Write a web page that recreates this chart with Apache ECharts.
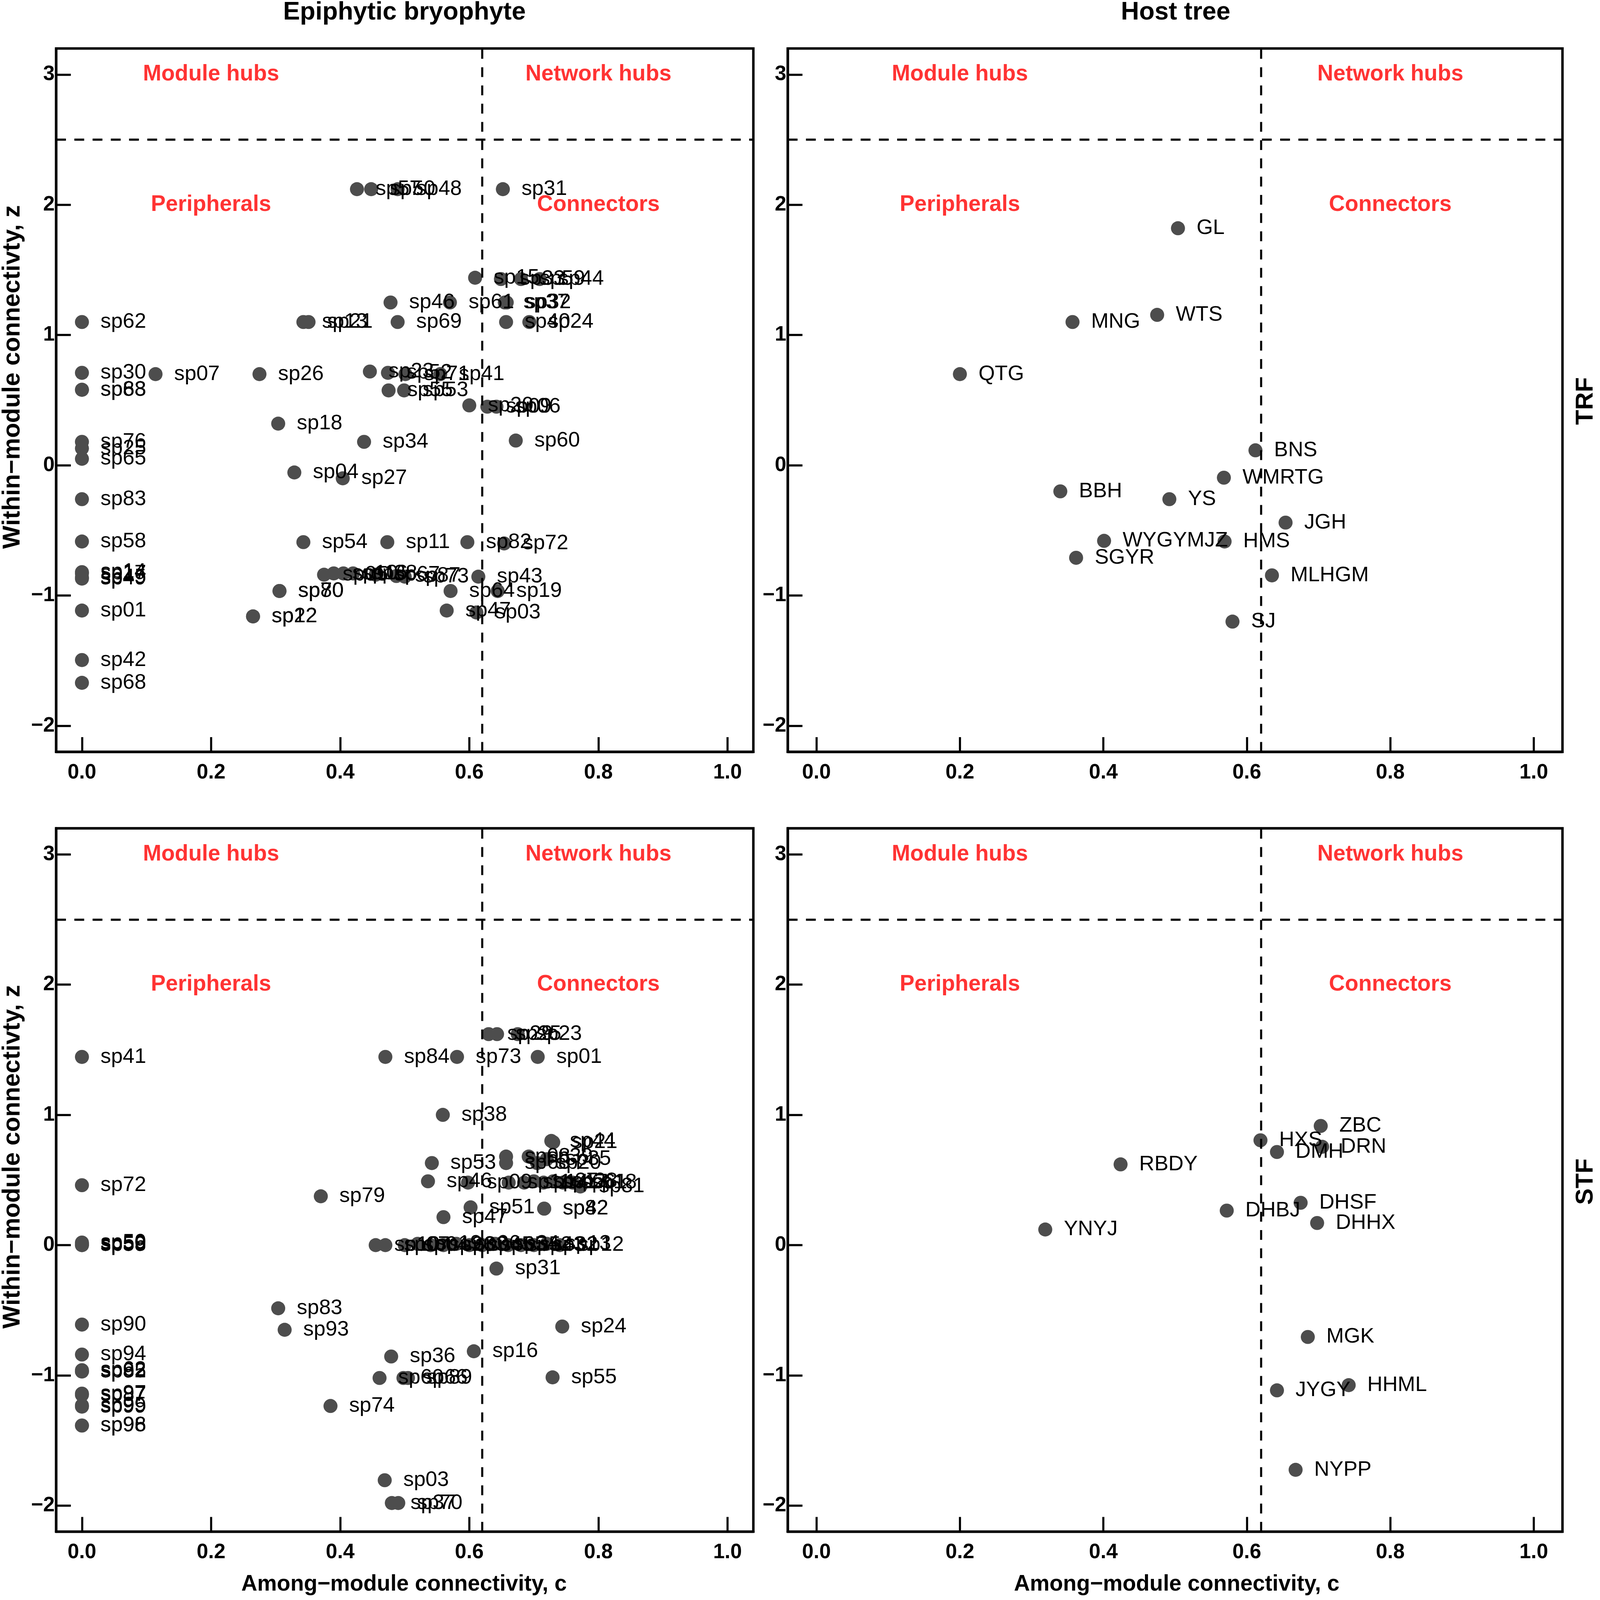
<!DOCTYPE html>
<html>
<head>
<meta charset="utf-8">
<script src="https://cdn.jsdelivr.net/npm/echarts@6/dist/echarts.min.js"></script>
<style>html,body{margin:0;padding:0;background:#fff;overflow:hidden}#chart{width:100vw;height:100vh}</style>
</head>
<body>
<div id="chart"></div>
<script>
// ---------- DATA ----------
// TRF – epiphytic bryophyte
var trfBryoNames = ['sp62','sp30','sp63','sp88','sp76','sp25','sp65','sp83','sp58','sp14','sp17','sp45','sp49','sp01','sp42','sp68',
  'sp07','sp26','sp18','sp04','sp27','sp34','sp13','sp21','sp46','sp69','sp61','sp37','sp32','sp57','sp50','sp48','sp31',
  'sp15','sp33','sp59','sp44','sp40','sp24','sp23','sp52','sp71','sp41','sp55','sp53','sp20','sp09','sp06','sp60',
  'sp54','sp11','sp82','sp72','sp05','sp10','sp16','sp38','sp67','sp87','sp73','sp43','sp64','sp19','sp80','sp70',
  'sp12','sp22','sp47','sp03'];
var trfBryoC = [0,0,0,0,0,0,0,0,0,0,0,0,0,0,0,0,
  0.114,0.275,0.304,0.329,0.404,0.437,0.343,0.351,0.478,0.489,0.570,0.655,0.658,0.426,0.448,0.489,0.652,
  0.609,0.649,0.680,0.709,0.657,0.693,0.446,0.474,0.501,0.555,0.475,0.499,0.600,0.628,0.642,0.672,
  0.343,0.473,0.597,0.654,0.375,0.390,0.405,0.420,0.455,0.487,0.500,0.614,0.571,0.644,0.306,0.306,
  0.265,0.265,0.565,0.611];
var trfBryoZ = [1.10,0.71,0.58,0.58,0.18,0.13,0.05,-0.26,-0.585,-0.82,-0.83,-0.86,-0.87,-1.115,-1.495,-1.67,
  0.70,0.70,0.32,-0.055,-0.10,0.18,1.10,1.10,1.25,1.10,1.25,1.25,1.25,2.12,2.12,2.12,2.12,
  1.44,1.43,1.43,1.43,1.10,1.10,0.72,0.71,0.70,0.70,0.575,0.575,0.46,0.45,0.45,0.19,
  -0.59,-0.59,-0.59,-0.60,-0.84,-0.83,-0.83,-0.83,-0.84,-0.85,-0.855,-0.855,-0.965,-0.965,-0.965,-0.965,
  -1.16,-1.16,-1.115,-1.13];

// TRF – host tree
var trfHostNames = ['GL','WTS','MNG','QTG','BNS','WMRTG','BBH','YS','JGH','WYGYMJZ','HMS','SGYR','MLHGM','SJ'];
var trfHostC = [0.504,0.475,0.357,0.200,0.612,0.568,0.340,0.492,0.654,0.401,0.569,0.362,0.635,0.580];
var trfHostZ = [1.82,1.155,1.10,0.70,0.115,-0.095,-0.20,-0.26,-0.44,-0.58,-0.585,-0.71,-0.845,-1.20];

// STF – epiphytic bryophyte
var stfBryoNames = ['sp41','sp29','sp25','sp23','sp84','sp73','sp01','sp38','sp44','sp21','sp53','sp08','sp63','sp39','sp20','sp35',
  'sp46','sp09','sp11','sp14','sp27','sp17','sp28','sp61','sp18','sp81','sp79','sp72','sp51','sp47','sp42','sp82',
  'sp50','sp56','sp59','sp58',
  'sp10','sp07','sp04','sp19','sp26','sp33','sp06','sp45','sp65','sp34','sp52','sp43','sp32','sp13','sp12',
  'sp31','sp83','sp93','sp90','sp24','sp16','sp36','sp94','sp62','sp92','sp85','sp55','sp60','sp66','sp89',
  'sp97','sp87','sp99','sp95','sp74','sp96','sp98','sp03','sp37','sp70'];
var stfBryoC = [0,0.630,0.643,0.675,0.470,0.581,0.706,0.559,0.727,0.730,0.542,0.657,0.657,0.692,0.705,0.720,
  0.536,0.598,0.661,0.685,0.700,0.715,0.730,0.745,0.760,0.772,0.370,0,0.602,0.560,0.716,0.716,
  0,0,0,0,
  0.455,0.470,0.500,0.520,0.540,0.560,0.580,0.600,0.620,0.640,0.660,0.680,0.700,0.720,0.740,
  0.642,0.304,0.314,0,0.744,0.607,0.479,0,0,0,0,0.729,0.461,0.498,0.505,
  0,0,0,0,0.385,0,0,0.469,0.480,0.490];
var stfBryoZ = [1.445,1.62,1.62,1.62,1.445,1.445,1.445,1.00,0.80,0.79,0.63,0.68,0.63,0.68,0.63,0.66,
  0.49,0.48,0.48,0.48,0.49,0.48,0.49,0.48,0.48,0.45,0.375,0.46,0.29,0.215,0.28,0.28,
  0.02,0.01,0.0,0.0,
  0.0,0.0,0.0,0.01,0.0,0.0,0.01,0.0,0.0,0.01,0.0,0.0,0.0,0.01,0.0,
  -0.18,-0.485,-0.65,-0.61,-0.625,-0.815,-0.855,-0.84,-0.96,-0.97,-0.97,-1.015,-1.02,-1.02,-1.02,
  -1.14,-1.15,-1.24,-1.23,-1.235,-1.385,-1.385,-1.805,-1.98,-1.98];

// STF – host tree
var stfHostNames = ['ZBC','HXS','DRN','DMH','RBDY','DHBJ','DHSF','DHHX','YNYJ','MGK','HHML','JYGY','NYPP'];
var stfHostC = [0.703,0.619,0.705,0.642,0.424,0.572,0.675,0.698,0.319,0.685,0.742,0.642,0.668];
var stfHostZ = [0.915,0.805,0.755,0.715,0.62,0.265,0.325,0.17,0.12,-0.705,-1.075,-1.115,-1.725];

// Region annotations and thresholds
var regionNames = ['Module hubs','Network hubs','Peripherals','Connectors'];
var regionC = [0.2,0.8,0.2,0.8];
var regionZ = [3,3,2,2];
var cThreshold = 0.62;
var zThreshold = 2.5;

var xTicks = [0,0.2,0.4,0.6,0.8,1.0];
var yTicks = [-2,-1,0,1,2,3];

var colTitles = ['Epiphytic bryophyte','Host tree'];
var rowTitles = ['TRF','STF'];
var yTitle = 'Within\u2212module connectivty, z';
var xTitle = 'Among\u2212module connectivity, c';

// ---------- CHART ----------
var W = window.innerWidth || 4562, H = window.innerHeight || 4520;
var sx = W / 4562, sy = H / 4520, sf = Math.min(sx, sy);
function X(v) { return v * sx; }
function Y(v) { return v * sy; }
function F(v) { return v * sf; }

var FONT = 'Liberation Sans, Arial, Helvetica, sans-serif';
var panels = [
  {names: trfBryoNames, c: trfBryoC, z: trfBryoZ},
  {names: trfHostNames, c: trfHostC, z: trfHostZ},
  {names: stfBryoNames, c: stfBryoC, z: stfBryoZ},
  {names: stfHostNames, c: stfHostC, z: stfHostZ}
];
var gridBoxes = [
  {left:160, top:137, width:1988, height:1987},
  {left:2246, top:137, width:2209, height:1987},
  {left:160, top:2340, width:1988, height:1987},
  {left:2246, top:2340, width:2209, height:1987}
];

var grids = [], xAxes = [], yAxes = [], series = [];
gridBoxes.forEach(function (g, i) {
  grids.push({left:X(g.left), top:Y(g.top), width:X(g.width), height:Y(g.height), show:true,
    borderColor:'#000', borderWidth:F(7), backgroundColor:'rgba(0,0,0,0)', containLabel:false});
  xAxes.push({type:'value', gridIndex:i, min:-0.04, max:1.04,
    splitLine:{show:false},
    axisLine:{show:true, onZero:false, lineStyle:{color:'#000', width:F(7)}},
    axisTick:{show:true, inside:true, length:F(42), customValues:xTicks, lineStyle:{color:'#000', width:F(6)}},
    axisLabel:{show:true, customValues:xTicks, margin:F(30), color:'#000', fontSize:F(59), fontWeight:'bold', fontFamily:FONT,
      formatter:function (v) { return v.toFixed(1); }}
  });
  yAxes.push({type:'value', gridIndex:i, min:-2.2, max:3.2,
    splitLine:{show:false},
    axisLine:{show:true, onZero:false, lineStyle:{color:'#000', width:F(7)}},
    axisTick:{show:true, inside:true, length:F(42), customValues:yTicks, lineStyle:{color:'#000', width:F(6)}},
    axisLabel:{show:true, customValues:yTicks, margin:F(4), color:'#000', fontSize:F(59), fontWeight:'bold', fontFamily:FONT,
      formatter:function (v) { return v < 0 ? '\u2212' + Math.abs(v) : String(v); }}
  });
  var p = panels[i];
  var pts = p.names.map(function (n, k) { return {name:n, value:[p.c[k], p.z[k]]}; });
  series.push({type:'scatter', xAxisIndex:i, yAxisIndex:i, data:pts, symbol:'circle', symbolSize:F(40),
    itemStyle:{color:'#4d4d4d', opacity:1},
    label:{show:true, position:'right', distance:F(33), formatter:'{b}', color:'#000', fontSize:F(60), fontFamily:FONT},
    emphasis:{disabled:true}, silent:true, z:3});
  var regs = regionNames.map(function (n, k) { return {name:n, value:[regionC[k], regionZ[k]]}; });
  series.push({type:'scatter', xAxisIndex:i, yAxisIndex:i, data:regs, symbolSize:1,
    itemStyle:{color:'rgba(0,0,0,0)'},
    label:{show:true, position:'inside', formatter:'{b}', color:'#ff0000', fontSize:F(63), fontWeight:'bold', fontFamily:FONT},
    markLine:{silent:true, symbol:['none','none'], label:{show:false},
      lineStyle:{color:'#000', width:F(6), type:[F(28),F(24)]},
      data:[{xAxis:cThreshold}, {yAxis:zThreshold}]},
    emphasis:{disabled:true}, silent:true, z:2});
});

var graphics = [];
function txt(s, x, y, size, rot) {
  graphics.push({type:'text', x:X(x), y:Y(y), rotation:rot || 0,
    style:{text:s, fill:'#000', font:'bold ' + F(size) + 'px ' + FONT, textAlign:'center', textVerticalAlign:'middle'}});
}
txt(colTitles[0], 1153, 36, 72);
txt(colTitles[1], 3352, 36, 72);
txt(rowTitles[0], 4521, 1133, 70, Math.PI/2);
txt(rowTitles[1], 4521, 3338, 70, Math.PI/2);
txt(yTitle, 36, 1065, 70, Math.PI/2);
txt(yTitle, 36, 3268, 70, Math.PI/2);
txt(xTitle, 1152, 4476, 63);
txt(xTitle, 3355, 4476, 63);

var chart = echarts.init(document.getElementById('chart'), null, {renderer:'canvas', width:W, height:H});
chart.setOption({
  animation:false,
  backgroundColor:'#fff',
  grid:grids, xAxis:xAxes, yAxis:yAxes, series:series,
  graphic:graphics
});
</script>
</body>
</html>
